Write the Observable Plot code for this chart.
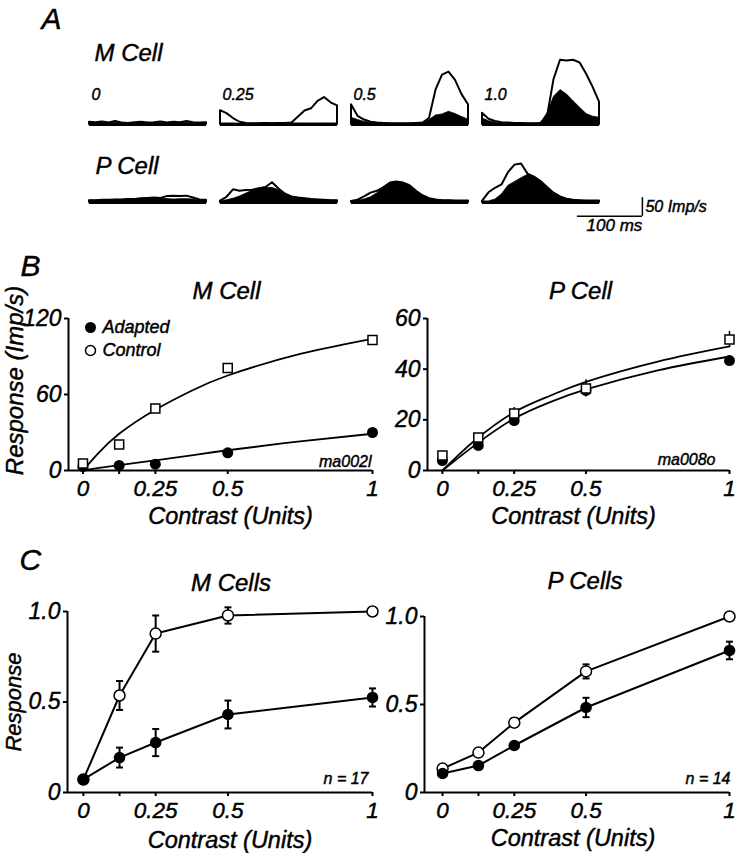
<!DOCTYPE html>
<html><head><meta charset="utf-8">
<script src="https://cdn.jsdelivr.net/npm/d3@7"></script>
<script src="https://cdn.jsdelivr.net/npm/@observablehq/plot@0.6"></script>
<style>
body{margin:0;background:#fff;}
#fig{position:relative;width:736px;height:853px;overflow:hidden;background:#fff;}
#fig text{stroke:black;stroke-width:0.45px;}
</style>
</head><body><div id="fig"></div>
<script>
// ---------------- Panel A: PSTH data (imp/s vs time, ms) ----------------
const histTime = [0,10,20,30,40,50,60,70,80,90,100,110,120,130,140,150,160,170,180];
const histCells = ["M", "P"];
const histContrasts = ["0", "0.25", "0.5", "1.0"];
const mControl0   = [6,5,7,4,8,4,3,5,6,4,5,7,4,6,5,8,5,4,5];
const mAdapted0   = [5,4,5,3,5,3,3,3,4,3,4,5,3,4,4,5,4,3,4];
const mControl25  = [37,29,16,6,3,2,2,3,2,3,3,4,20,36,42,62,72,58,50];
const mAdapted25  = [3,3,3,2,2,2,3,4,3,4,3,3,3,3,3,3,3,3,3];
const mControl50  = [53,22,12,6,4,3,2,2,2,2,3,4,16,92,132,140,118,80,53];
const mAdapted50  = [18,12,7,4,3,3,2,2,2,2,3,3,12,24,27,34,28,20,13];
const mControl100 = [30,14,8,5,4,3,3,2,2,3,20,120,172,170,172,165,135,100,60];
const mAdapted100 = [16,9,5,3,3,2,2,2,2,4,30,74,92,80,62,45,28,21,18];
const pControl0   = [5,5,6,6,7,7,8,8,10,11,12,11,16,17,16,17,12,7,6];
const pAdapted0   = [5,5,6,6,7,7,8,8,10,11,12,11,9,8,9,9,8,6,6];
const pControl25  = [4,14,34,30,32,33,37,40,53,36,22,15,12,10,8,7,6,5,5];
const pAdapted25  = [4,6,10,16,24,32,37,39,39,33,22,15,12,10,8,7,6,5,5];
const pControl50  = [3,6,15,25,30,40,52,55,52,45,30,18,10,7,5,5,4,4,4];
const pAdapted50  = [3,4,8,14,25,40,52,55,52,45,30,18,10,7,5,5,4,4,4];
const pControl100 = [3,26,38,47,80,100,103,76,68,56,40,25,15,9,6,5,4,4,4];
const pAdapted100 = [3,3,8,22,45,55,65,74,67,56,40,25,15,9,6,5,4,4,4];
const scaleBarMs = 100, scaleBarRate = 50;

// ---------------- Panels B & C data ----------------
const contrasts = [0, 0.125, 0.25, 0.5, 1];
const xTicks = [0, 0.125, 0.25, 0.5, 1];
const xTickLabels = ["0", "", "0.25", "0.5", "1"];
const fitC = [0, 0.05, 0.125, 0.25, 0.375, 0.5, 0.75, 1];

const bMControl = [5.5, 20.5, 49, 81, 103];
const bMControlErr = [1, 1.5, 3, 2, 2];
const bMAdapted = [3, 4, 5, 14, 30];
const bMAdaptedErr = [0.5, 0.5, 1, 1.5, 1.5];
const bMControlFit = [0, 13, 29, 48, 63, 75, 92, 104];
const bMAdaptedFit = [0, 1.8, 4.2, 8, 12, 16, 23, 29];

const bPControl = [5.9, 13, 22.5, 32.4, 51.7];
const bPControlErr = [1, 1, 2.4, 3.4, 3.2];
const bPAdapted = [3.9, 9.9, 19.7, 31.6, 43.4];
const bPAdaptedErr = [0.5, 0.8, 1, 1.5, 1.5];
const bPControlFit = [0, 5.5, 13, 23, 29.5, 35, 43, 49];
const bPAdaptedFit = [0, 4.5, 11, 20.5, 27, 32, 39.5, 45];

const cMControl = [0.072, 0.536, 0.878, 0.978, 1.0];
const cMControlErr = [0, 0.08, 0.1, 0.045, 0];
const cMAdapted = [0.072, 0.193, 0.276, 0.431, 0.525];
const cMAdaptedErr = [0, 0.055, 0.075, 0.077, 0.05];
const cPControl = [0.136, 0.227, 0.397, 0.688, 1.0];
const cPControlErr = [0, 0.015, 0.025, 0.04, 0];
const cPAdapted = [0.108, 0.153, 0.267, 0.483, 0.807];
const cPAdaptedErr = [0, 0.015, 0.02, 0.055, 0.05];

// ---------------- helpers ----------------
const FONT = "'Liberation Sans', Arial, Helvetica, sans-serif";
const baseStyle = {fontFamily: FONT, fontStyle: "italic", background: "transparent", overflow: "visible", color: "black"};
const fig = document.getElementById("fig");
function place(svg, left, top) {
  svg.style.position = "absolute";
  svg.style.left = left + "px";
  svg.style.top = top + "px";
  svg.style.maxWidth = "none";
  fig.appendChild(svg);
}
const xTickLabel = new Map(xTicks.map((t, i) => [t, xTickLabels[i]]));
const capSymbol = {draw(ctx, size) { const w = Math.sqrt(size / Math.PI); ctx.moveTo(-w, 0); ctx.lineTo(w, 0); }};
const rows = (vals, errs) => contrasts.map((c, i) => ({c, v: vals[i], e: errs[i]}));
const fitRows = (vals) => fitC.map((c, i) => ({c, v: vals[i]}));

function errMarks(data, sw, capR) {
  const d = data.filter(r => r.e > 0);
  const m = [Plot.ruleX(d, {x: "c", y1: r => r.v - r.e, y2: r => r.v + r.e, strokeWidth: sw})];
  if (capR) {
    m.push(Plot.dot(d, {x: "c", y: r => r.v - r.e, symbol: capSymbol, r: capR, fill: "none", stroke: "black", strokeWidth: sw}));
    m.push(Plot.dot(d, {x: "c", y: r => r.v + r.e, symbol: capSymbol, r: capR, fill: "none", stroke: "black", strokeWidth: sw}));
  }
  return m;
}

function curvePanel(cfg) {
  const svg = Plot.plot({
    width: cfg.width, height: cfg.height,
    marginLeft: cfg.mL, marginRight: cfg.mR, marginTop: cfg.mT, marginBottom: cfg.mB,
    x: {domain: cfg.xDomain}, y: {domain: cfg.yDomain},
    style: baseStyle,
    marks: [
      Plot.ruleX([cfg.xDomain[0]], {strokeWidth: 2}),
      Plot.ruleY([cfg.yDomain[0]], {strokeWidth: 2}),
      Plot.axisX({ticks: xTicks, tickFormat: d => xTickLabel.get(d), tickSize: 4, tickPadding: 6, fontSize: 22.5, strokeWidth: 2, label: null}),
      Plot.axisY({ticks: cfg.yTicks, tickFormat: cfg.yFmt, tickSize: 4, tickPadding: 3, fontSize: 23, strokeWidth: 2, label: null}),
      ...cfg.marks
    ]
  });
  place(svg, cfg.left, cfg.top);
}

// ---------------- Panel A ----------------
const histSeries = [
  ["M","0","control",mControl0], ["M","0","adapted",mAdapted0],
  ["M","0.25","control",mControl25], ["M","0.25","adapted",mAdapted25],
  ["M","0.5","control",mControl50], ["M","0.5","adapted",mAdapted50],
  ["M","1.0","control",mControl100], ["M","1.0","adapted",mAdapted100],
  ["P","0","control",pControl0], ["P","0","adapted",pAdapted0],
  ["P","0.25","control",pControl25], ["P","0.25","adapted",pAdapted25],
  ["P","0.5","control",pControl50], ["P","0.5","adapted",pAdapted50],
  ["P","1.0","control",pControl100], ["P","1.0","adapted",pAdapted100]
];
const histRows = histSeries.flatMap(([cell, contrast, cond, vals]) =>
  histTime.map((t, i) => ({cell, contrast, cond, t, v: vals[i]})));
const barX2 = 246, barX1 = barX2 - scaleBarMs, barY1 = -37, barY2 = barY1 + scaleBarRate;
const barFacet = [{fx: "1.0", fy: "P"}];

const svgA = Plot.plot({
  width: 736, height: 240, marginLeft: 87, marginRight: 135, marginTop: 52, marginBottom: 37,
  fx: {domain: histContrasts, paddingInner: 0.106, paddingOuter: 0, axis: null},
  fy: {domain: histCells, paddingInner: 0.0886, paddingOuter: 0, axis: null},
  x: {domain: [0, 180], axis: null},
  y: {domain: [0, 190], axis: null},
  style: baseStyle,
  marks: [
    Plot.areaY(histRows.filter(d => d.cond === "control"), {x: "t", y: "v", fx: "contrast", fy: "cell", fill: "white", stroke: "black", strokeWidth: 2, strokeLinejoin: "round"}),
    Plot.areaY(histRows.filter(d => d.cond === "adapted"), {x: "t", y: "v", fx: "contrast", fy: "cell", fill: "black", stroke: "black", strokeWidth: 0.8}),
    Plot.ruleY([0], {strokeWidth: 3}),
    Plot.text(histContrasts.map(c => ({c, cell: "M"})), {fx: "c", fy: "cell", text: "c", frameAnchor: "top-left", textAnchor: "start", lineAnchor: "middle", dx: 2, dy: 41, fontSize: 16}),
    Plot.text([{c: "0", cell: "M", label: "M Cell"}], {fx: "c", fy: "cell", text: "label", frameAnchor: "top-left", textAnchor: "start", lineAnchor: "middle", dx: 5, dy: 0, fontSize: 24}),
    Plot.text([{c: "0", cell: "P", label: "P Cell"}], {fx: "c", fy: "cell", text: "label", frameAnchor: "top-left", textAnchor: "start", lineAnchor: "middle", dx: 6, dy: 35, fontSize: 24}),
    Plot.text([{c: "0", cell: "M", label: "A"}], {fx: "c", fy: "cell", text: "label", frameAnchor: "top-left", textAnchor: "start", lineAnchor: "middle", dx: -48, dy: -34, fontSize: 30}),
    Plot.ruleY(barFacet, {fx: "fx", fy: "fy", y: barY1, x1: barX1, x2: barX2, strokeWidth: 1.5}),
    Plot.ruleX(barFacet, {fx: "fx", fy: "fy", x: barX2, y1: barY1, y2: barY2, strokeWidth: 1.5}),
    Plot.text(barFacet, {fx: "fx", fy: "fy", x: barX2, y: (barY1 + barY2) / 2, dx: 3, text: () => scaleBarRate + " Imp/s", textAnchor: "start", lineAnchor: "middle", fontSize: 16}),
    Plot.text(barFacet, {fx: "fx", fy: "fy", x: barX2 - 43, y: barY1, dy: 3, text: () => scaleBarMs + " ms", textAnchor: "middle", lineAnchor: "top", fontSize: 17})
  ]
});
place(svgA, 0, 0);

// ---------------- Panel B ----------------
const bM_c = rows(bMControl, bMControlErr), bM_a = rows(bMAdapted, bMAdaptedErr);
curvePanel({
  left: 0, top: 250, width: 380, height: 290, mL: 68, mR: 8, mT: 68, mB: 70,
  xDomain: [-0.05, 1], yDomain: [0, 120], yTicks: [0, 60, 120], yFmt: d => String(d),
  marks: [
    Plot.line(fitRows(bMControlFit), {x: "c", y: "v", curve: "natural", strokeWidth: 1.8}),
    Plot.line(fitRows(bMAdaptedFit), {x: "c", y: "v", curve: "natural", strokeWidth: 1.8}),
    ...errMarks(bM_a, 1.5, 0), ...errMarks(bM_c, 1.5, 0),
    Plot.dot(bM_a, {x: "c", y: "v", r: 5.5, fill: "black"}),
    Plot.dot(bM_c, {x: "c", y: "v", symbol: "square", r: 5.1, fill: "white", stroke: "black", strokeWidth: 1.5}),
    Plot.dot([0], {frameAnchor: "top-left", dx: 22, dy: 9, r: 5.5, fill: "black"}),
    Plot.dot([0], {frameAnchor: "top-left", dx: 22, dy: 32, r: 5, fill: "white", stroke: "black", strokeWidth: 1.5}),
    Plot.text(["Adapted"], {frameAnchor: "top-left", text: d => d, dx: 34, dy: 9, textAnchor: "start", lineAnchor: "middle", fontSize: 18}),
    Plot.text(["Control"], {frameAnchor: "top-left", text: d => d, dx: 34, dy: 32, textAnchor: "start", lineAnchor: "middle", fontSize: 18}),
    Plot.text(["M Cell"], {frameAnchor: "top", text: d => d, dx: 6, dy: -27, lineAnchor: "middle", fontSize: 24}),
    Plot.text(["B"], {frameAnchor: "top-left", text: d => d, dx: -48, dy: -52, textAnchor: "start", lineAnchor: "middle", fontSize: 30}),
    Plot.text(["Response (Imp/s)"], {frameAnchor: "left", text: d => d, rotate: -90, dx: -53, dy: -14, textAnchor: "middle", lineAnchor: "middle", fontSize: 24}),
    Plot.text(["Contrast (Units)"], {frameAnchor: "bottom", text: d => d, dx: 10, dy: 46, lineAnchor: "middle", fontSize: 23.5}),
    Plot.text(["ma002l"], {frameAnchor: "bottom-right", text: d => d, dx: -1, dy: -9, textAnchor: "end", lineAnchor: "middle", fontSize: 16})
  ]
});

const bP_c = rows(bPControl, bPControlErr), bP_a = rows(bPAdapted, bPAdaptedErr);
curvePanel({
  left: 360, top: 250, width: 376, height: 290, mL: 67, mR: 7, mT: 68, mB: 70,
  xDomain: [-0.052, 1], yDomain: [0, 60], yTicks: [0, 20, 40, 60], yFmt: d => String(d),
  marks: [
    Plot.line(fitRows(bPControlFit), {x: "c", y: "v", curve: "natural", strokeWidth: 1.8}),
    Plot.line(fitRows(bPAdaptedFit), {x: "c", y: "v", curve: "natural", strokeWidth: 1.8}),
    ...errMarks(bP_a, 1.5, 0), ...errMarks(bP_c, 1.5, 0),
    Plot.dot(bP_a, {x: "c", y: "v", r: 5.5, fill: "black"}),
    Plot.dot(bP_c, {x: "c", y: "v", symbol: "square", r: 5.1, fill: "white", stroke: "black", strokeWidth: 1.5}),
    Plot.text(["P Cell"], {frameAnchor: "top", text: d => d, dx: 2, dy: -27, lineAnchor: "middle", fontSize: 24}),
    Plot.text(["Contrast (Units)"], {frameAnchor: "bottom", text: d => d, dx: -5, dy: 46, lineAnchor: "middle", fontSize: 23.5}),
    Plot.text(["ma008o"], {frameAnchor: "bottom-right", text: d => d, dx: -14, dy: -11, textAnchor: "end", lineAnchor: "middle", fontSize: 16})
  ]
});

// ---------------- Panel C ----------------
const fmtC = d => d === 0 ? "0" : d.toFixed(1);
const cM_c = rows(cMControl, cMControlErr), cM_a = rows(cMAdapted, cMAdaptedErr);
curvePanel({
  left: 0, top: 530, width: 380, height: 323, mL: 67, mR: 8, mT: 81, mB: 61,
  xDomain: [-0.055, 1], yDomain: [0, 1], yTicks: [0, 0.5, 1], yFmt: fmtC,
  marks: [
    Plot.line(cM_c, {x: "c", y: "v", strokeWidth: 2}),
    Plot.line(cM_a, {x: "c", y: "v", strokeWidth: 2}),
    ...errMarks(cM_c, 2, 3.5), ...errMarks(cM_a, 2, 3.5),
    Plot.dot(cM_c, {x: "c", y: "v", r: 5.5, fill: "white", stroke: "black", strokeWidth: 1.5}),
    Plot.dot(cM_a, {x: "c", y: "v", r: 5.8, fill: "black"}),
    Plot.text(["M Cells"], {frameAnchor: "top", text: d => d, dx: 11, dy: -28, lineAnchor: "middle", fontSize: 24}),
    Plot.text(["C"], {frameAnchor: "top-left", text: d => d, dx: -48, dy: -51, textAnchor: "start", lineAnchor: "middle", fontSize: 30}),
    Plot.text(["Response"], {frameAnchor: "left", text: d => d, rotate: -90, dx: -54, dy: 0, textAnchor: "middle", lineAnchor: "middle", fontSize: 22}),
    Plot.text(["Contrast (Units)"], {frameAnchor: "bottom", text: d => d, dx: 10, dy: 48, lineAnchor: "middle", fontSize: 23.5}),
    Plot.text(["n = 17"], {frameAnchor: "bottom-right", text: d => d, dx: -4, dy: -14, textAnchor: "end", lineAnchor: "middle", fontSize: 16})
  ]
});

const cP_c = rows(cPControl, cPControlErr), cP_a = rows(cPAdapted, cPAdaptedErr);
curvePanel({
  left: 360, top: 530, width: 376, height: 323, mL: 64, mR: 7, mT: 86, mB: 61,
  xDomain: [-0.063, 1], yDomain: [0, 1], yTicks: [0, 0.5, 1], yFmt: fmtC,
  marks: [
    Plot.line(cP_c, {x: "c", y: "v", strokeWidth: 2}),
    Plot.line(cP_a, {x: "c", y: "v", strokeWidth: 2}),
    ...errMarks(cP_c, 2, 3.5), ...errMarks(cP_a, 2, 3.5),
    Plot.dot(cP_c, {x: "c", y: "v", r: 5.5, fill: "white", stroke: "black", strokeWidth: 1.5}),
    Plot.dot(cP_a, {x: "c", y: "v", r: 5.8, fill: "black"}),
    Plot.text(["P Cells"], {frameAnchor: "top", text: d => d, dx: 8, dy: -35, lineAnchor: "middle", fontSize: 24}),
    Plot.text(["Contrast (Units)"], {frameAnchor: "bottom", text: d => d, dx: -4, dy: 46, lineAnchor: "middle", fontSize: 23.5}),
    Plot.text(["n = 14"], {frameAnchor: "bottom-right", text: d => d, dx: 1, dy: -14, textAnchor: "end", lineAnchor: "middle", fontSize: 16})
  ]
});
</script></body></html>
